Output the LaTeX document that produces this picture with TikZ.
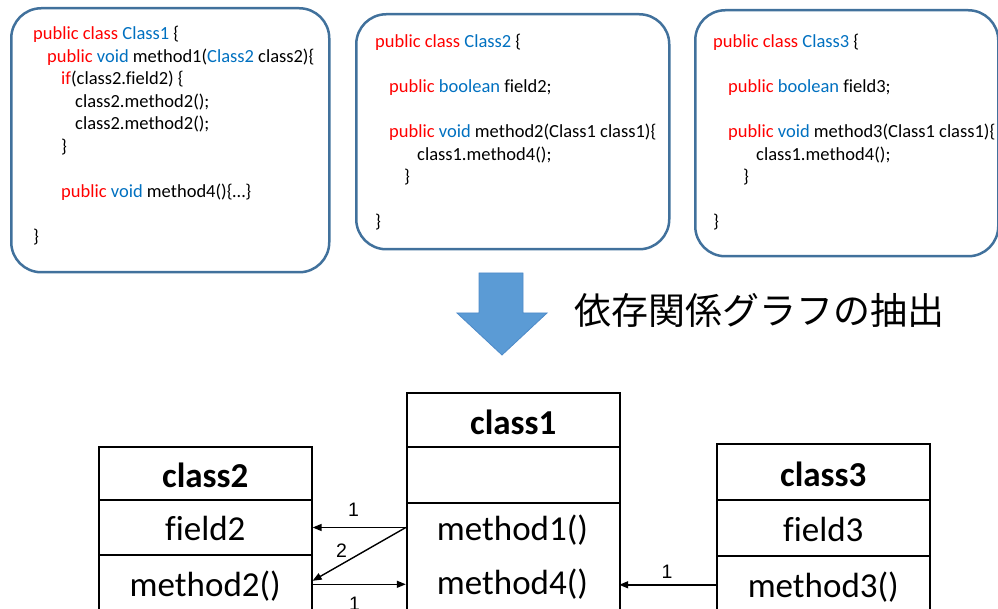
\documentclass[tikz,border=0pt]{standalone}
\usepackage{fontspec}
\setmainfont[Ligatures=CommonOff]{Carlito}
\newfontfamily\lblfont{Liberation Sans}
\newfontfamily\jpfont{Noto Sans CJK JP}
\usetikzlibrary{arrows.meta}

\definecolor{kwred}{RGB}{255,0,0}
\definecolor{kwblue}{RGB}{0,112,192}
\definecolor{boxblue}{RGB}{65,113,156}
\definecolor{arrowfill}{RGB}{91,155,213}
\definecolor{arrowedge}{RGB}{78,138,200}

\newcommand{\kw}[1]{\textcolor{kwred}{#1}}
\newcommand{\ty}[1]{\textcolor{kwblue}{#1}}

\begin{document}
\begin{tikzpicture}[x=1pt,y=-1pt,
  codebox/.style={draw=boxblue, line width=2.5pt, rounded corners=30pt,
    anchor=north west, inner sep=0pt},
  code/.style={anchor=base west, inner sep=0pt,
    font=\fontsize{18.5}{22.5}\selectfont},
  umlrow/.style={draw, line width=1.6pt, anchor=north west, inner sep=0pt,
    minimum width=213pt, text height=27pt, text depth=0pt,
    font=\fontsize{35}{40}\selectfont},
  umlhead/.style={umlrow, text height=29pt, font=\fontsize{35}{40}\selectfont\bfseries},
  umltext/.style={inner sep=0pt, minimum width=213pt, minimum height=54pt,
    text height=26pt, text depth=0pt, font=\fontsize{35}{40}\selectfont},
  dep/.style={line width=1.4pt, -{Triangle[length=9pt,width=7pt]}},
  mult/.style={inner sep=0pt, font=\lblfont\fontsize{19.5}{22}\selectfont}
]
\clip (0,0) rectangle (998,609);

% source code panels
\node[codebox, minimum width=318pt, minimum height=264pt] (src1) at (10,7) {};
\node[codebox, minimum width=313pt, minimum height=235pt] (src2) at (355,13) {};
\node[codebox, minimum width=303pt, minimum height=246pt] (src3) at (694,9) {};

\node[code] (l11) at (33,40)    {\kw{public class} \ty{Class1} \{};
\node[code] (l12) at (47,62.5)  {\kw{public} \ty{void} method1(\ty{Class2} class2)\{};
\node[code] (l13) at (61,85)    {\kw{if}(class2.field2) \{};
\node[code] (l14) at (75,107.5) {class2.method2();};
\node[code] (l15) at (75,130)   {class2.method2();};
\node[code] (l16) at (61,152.5) {\}};
\node[code] (l17) at (61,197.5) {\kw{public} \ty{void} method4()\{…\}};
\node[code] (l18) at (33,242.5) {\}};

\node[code] (l21) at (375,48)   {\kw{public class} \ty{Class2} \{};
\node[code] (l22) at (389,93)   {\kw{public} \ty{boolean} field2;};
\node[code] (l23) at (389,138)  {\kw{public} \ty{void} method2(Class1 class1)\{};
\node[code] (l24) at (417,160.5){class1.method4();};
\node[code] (l25) at (404,183)  {\}};
\node[code] (l26) at (375,228)  {\}};

\node[code] (l31) at (713,48)   {\kw{public class} \ty{Class3} \{};
\node[code] (l32) at (728,93)   {\kw{public} \ty{boolean} field3;};
\node[code] (l33) at (728,138)  {\kw{public} \ty{void} method3(Class1 class1)\{};
\node[code] (l34) at (756,160.5){class1.method4();};
\node[code] (l35) at (743,183)  {\}};
\node[code] (l36) at (713,228)  {\}};

% extraction arrow and caption
\filldraw[fill=arrowfill, draw=arrowedge, line width=0.8pt]
  (479,273) -- (523,273) -- (523,313) -- (547,313) -- (502,355)
  -- (457,313) -- (479,313) -- cycle;
\node[anchor=west, inner sep=0pt, font=\jpfont\fontsize{37}{40}\selectfont]
  (caption) at (574,310) {依存関係グラフの抽出};

% class1
\node[umlhead, minimum height=54pt] (c1h) at (406,392) {class1};
\node[umlrow, minimum height=56pt] (c1a) at (406,446) {};
\node[umlrow, minimum height=120pt] (c1o) at (406,502) {};
\node[umltext] (c1m1) at (512.5,527.5) {method1()};
\node[umltext] (c1m4) at (512.5,581) {method4()};

% class2
\node[umlhead, minimum height=53pt] (c2h) at (98,446) {class2};
\node[umlrow, minimum height=55pt] (c2f) at (98,499) {field2};
\node[umlrow, minimum height=56pt] (c2m) at (98,554) {method2()};

% class3
\node[umlhead, minimum height=56pt] (c3h) at (716,443) {class3};
\node[umlrow, minimum height=56pt] (c3f) at (716,499) {field3};
\node[umlrow, minimum height=56pt] (c3m) at (716,555) {method3()};

% dependencies
\draw[dep] (c1m1.west) -- node[mult, pos=0.56, yshift=18pt] (n1) {1}
  (c2f.east |- c1m1.west);
\draw[dep] (c1m1.west) -- node[mult, pos=0.69, yshift=14pt] (n2) {2}
  ([yshift=2pt]c2m.east);
\draw[dep] ([yshift=-1.5pt]c2m.east) -- node[mult, pos=0.45, yshift=-19pt] (n3) {1}
  ([yshift=-1.5pt]c2m.east -| c1m4.west);
\draw[dep] ([yshift=-1pt]c3m.west) -- node[mult, pos=0.505, yshift=13pt] (n4) {1}
  ([yshift=-1pt]c3m.west -| c1m4.east);
\end{tikzpicture}
\end{document}
